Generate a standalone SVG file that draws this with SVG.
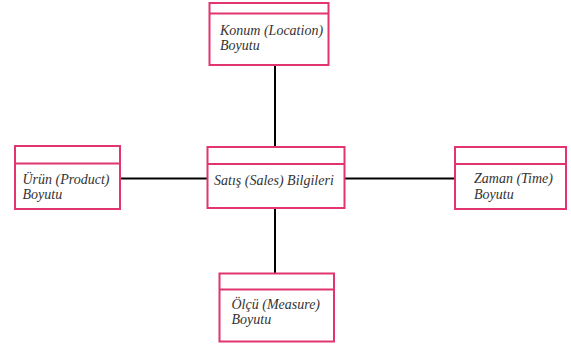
<svg xmlns="http://www.w3.org/2000/svg" width="571" height="349" viewBox="0 0 571 349">
<style>
.box{fill:#fff;stroke:#e2356e;stroke-width:2}
.t{font-family:'Liberation Serif','DejaVu Serif',serif;font-style:italic;font-size:14px;fill:#333}
.c{stroke:#000;stroke-width:2;fill:none}
</style>
<rect width="571" height="349" fill="#fff"/>
<g id="connectors">
<line class="c" x1="275" y1="65" x2="275" y2="147"/>
<line class="c" x1="275" y1="208" x2="275" y2="273"/>
<line class="c" x1="120" y1="178.5" x2="207" y2="178.5"/>
<line class="c" x1="344" y1="178.5" x2="455" y2="178.5"/>
</g>
<g id="location">
<rect class="box" x="209.5" y="3" width="119" height="62"/>
<line class="box" x1="209.5" y1="13.5" x2="328.5" y2="13.5"/>
<text class="t" x="220" y="35">Konum (Location)</text>
<text class="t" x="220" y="50">Boyutu</text>
</g>
<g id="product">
<rect class="box" x="15" y="146" width="105" height="63"/>
<line class="box" x1="15" y1="163.5" x2="120" y2="163.5"/>
<text class="t" x="22.5" y="184">Ürün (Product)</text>
<text class="t" x="22.5" y="198.5">Boyutu</text>
</g>
<g id="sales">
<rect class="box" x="207.5" y="147" width="137" height="61"/>
<line class="box" x1="207.5" y1="164" x2="344.5" y2="164"/>
<text class="t" x="214" y="185">Satış (Sales) Bilgileri</text>
</g>
<g id="time">
<rect class="box" x="455" y="147" width="111" height="62"/>
<line class="box" x1="455" y1="164" x2="566" y2="164"/>
<text class="t" x="474" y="183">Zaman (Time)</text>
<text class="t" x="474" y="198.5">Boyutu</text>
</g>
<g id="measure">
<rect class="box" x="219.5" y="273.5" width="114.5" height="68"/>
<line class="box" x1="219.5" y1="289.5" x2="334" y2="289.5"/>
<text class="t" x="231.5" y="308.5">Ölçü (Measure)</text>
<text class="t" x="231.5" y="324">Boyutu</text>
</g>
</svg>
